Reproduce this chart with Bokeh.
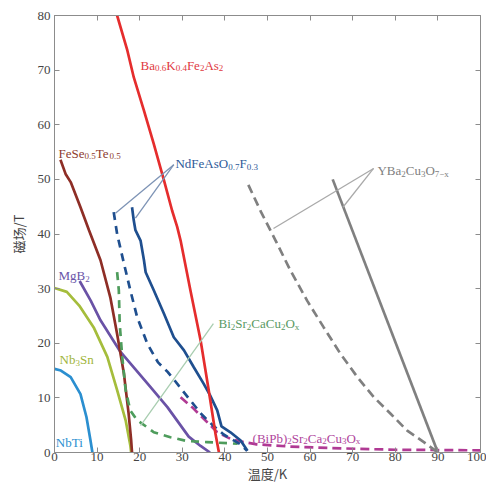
from bokeh.plotting import figure
from bokeh.models import Label, LinearAxis, FixedTicker
from bokeh.embed import file_html
from bokeh.resources import INLINE

# ---------------- data ----------------
x_ticks = [0, 10, 20, 30, 40, 50, 60, 70, 80, 90, 100]
y_ticks = [0, 10, 20, 30, 40, 50, 60, 70, 80]

nbti_T = [0, 1.5, 3.8, 6.1, 7.5, 8.45, 8.9]
nbti_B = [15.3, 15.0, 13.8, 10.7, 6.5, 2.2, 0]

nb3sn_T = [0, 2.9, 5.8, 9.2, 12.4, 14.7, 16.7, 17.8, 18.0]
nb3sn_B = [30.1, 29.4, 26.9, 22.9, 17.5, 11.4, 5.9, 1.3, 0]

mgb2_T = [5.9, 8.5, 10.8, 15.5, 18.6, 22.5, 26.5, 31.5, 34.3, 36.5]
mgb2_B = [31.4, 27.8, 24.2, 18.4, 15.6, 12.0, 8.3, 2.9, 1.2, 0]

fese_T = [1.4, 2.6, 3.8, 6.1, 8.1, 10.8, 13.1, 14.7, 16.3, 17.4, 18.0, 18.2]
fese_B = [53.6, 51.0, 49.5, 44.9, 40.7, 35.2, 28.4, 21.7, 14.4, 7.1, 2.2, 0]

ba_T = [14.7, 17.1, 18.6, 21.0, 23.3, 25.7, 27.6, 28.8, 29.6, 31.9, 34.3, 36.2, 37.8, 38.6]
ba_B = [80, 73.6, 68.7, 62.6, 56.5, 49.8, 44.3, 41.3, 38.8, 29.7, 20.5, 11.4, 3.4, 0]

nd_T = [18.2, 18.6, 19.0, 20.2, 21.0, 21.4, 23.3, 25.7, 28.0, 30.4, 32.7, 35.0, 36.5,
        38.2, 39.2, 41.3, 43.7, 45.3]
nd_B = [44.9, 42.5, 40.7, 38.8, 35.2, 33.0, 29.7, 25.4, 21.1, 18.7, 15.6, 12.6, 10.5,
        7.7, 4.8, 3.7, 2.2, 0.3]

nd_dash_T = [13.9, 14.7, 16.3, 17.8, 19.4, 21.8, 24.3, 26.5, 28.4, 30.4, 34.4, 37.0, 39.7, 43.7, 45.2]
nd_dash_B = [44.0, 40.0, 34.6, 29.7, 24.8, 19.9, 16.5, 14.8, 13.0, 11.0, 7.1, 5.1, 3.3, 1.5, 0.3]

bi2212_T = [14.7, 15.1, 15.3, 15.9, 16.7, 17.8, 19.4, 21.8, 23.3, 27.2, 31.1, 35.8, 43.0]
bi2212_B = [33.0, 29.7, 23.6, 17.5, 11.4, 7.7, 5.9, 4.6, 3.7, 2.8, 2.1, 1.9, 1.6]

bipb_T = [29.6, 32.3, 35.4, 38.2, 41.3, 44.4, 47.5, 55, 65, 80, 100]
bipb_B = [10.1, 8.3, 5.9, 3.7, 2.5, 1.9, 1.5, 1.1, 0.8, 0.5, 0.4]

ybco_dash_T = [45.5, 48.5, 51.9, 55.4, 59.3, 63.2, 67.1, 71.1, 75.0, 78.9, 82.8, 86.7, 90]
ybco_dash_B = [49.0, 44.0, 38.8, 33.3, 27.8, 22.9, 18.1, 13.8, 10.1, 7.1, 4.0, 1.9, 0]

ybco_T = [65.3, 90]
ybco_B = [50, 0]

# leader lines (annotation pointers)
nd_lead_T = [[28.0, 14.3], [28.0, 19.0]]
nd_lead_B = [[52.7, 43.8], [52.7, 42.9]]
yb_lead_T = [[74.9, 51.4], [74.9, 67.7]]
yb_lead_B = [[52.0, 41.0], [52.0, 44.9]]
bi_lead_T = [[37.3, 20.2]]
bi_lead_B = [[23.6, 4.9]]

# ---------------- figure ----------------
AX = "#8c8c8c"
TXT = "#444444"
SERIF = "Liberation Serif"

p = figure(width=486, height=485, x_range=(0, 100), y_range=(0, 80),
           output_backend="svg", toolbar_location=None,
           min_border_left=54, min_border_top=15, min_border_right=6, min_border_bottom=10)
p.grid.visible = False
p.outline_line_color = AX
p.background_fill_color = "white"

for ax in (p.xaxis[0], p.yaxis[0]):
    ax.major_tick_in = 5
    ax.major_tick_out = 0
    ax.minor_tick_line_color = None
    ax.axis_line_color = AX
    ax.major_tick_line_color = AX
    ax.major_label_text_font = SERIF
    ax.major_label_text_font_size = "13px"
    ax.major_label_text_color = TXT
    ax.axis_label_text_font = "Noto Sans CJK SC"
    ax.axis_label_text_font_size = "13px"
    ax.axis_label_text_font_style = "normal"
    ax.axis_label_text_color = TXT

p.xaxis.ticker = FixedTicker(ticks=x_ticks)
p.yaxis.ticker = FixedTicker(ticks=y_ticks)
p.xaxis.axis_label = "温度/K"
p.yaxis.axis_label = "磁场/T"
p.xaxis.major_label_standoff = 0
p.xaxis.axis_label_standoff = 0
p.yaxis.major_label_standoff = 4
p.yaxis.axis_label_standoff = 7

top = LinearAxis(ticker=FixedTicker(ticks=x_ticks), major_tick_in=5, major_tick_out=0,
                 minor_tick_line_color=None, axis_line_color=AX, major_tick_line_color=AX,
                 major_label_text_font_size="1px", major_label_text_color=None,
                 major_label_standoff=0)
right = LinearAxis(ticker=FixedTicker(ticks=y_ticks), major_tick_in=5, major_tick_out=0,
                   minor_tick_line_color=None, axis_line_color=AX, major_tick_line_color=AX,
                   major_label_text_font_size="1px", major_label_text_color=None,
                   major_label_standoff=0)
p.add_layout(top, "above")
p.add_layout(right, "right")

LW = 2.7
p.line(nbti_T, nbti_B, line_color="#2b8fd0", line_width=LW)
p.line(nb3sn_T, nb3sn_B, line_color="#a5bd3c", line_width=LW)
p.line(mgb2_T, mgb2_B, line_color="#6a52a6", line_width=LW)
p.line(fese_T, fese_B, line_color="#8e2e26", line_width=LW)
p.line(bipb_T, bipb_B, line_color="#b03a94", line_width=LW, line_dash="9 5")
p.line(bi2212_T, bi2212_B, line_color="#4e9c5c", line_width=LW, line_dash="8 6")
p.line(nd_dash_T, nd_dash_B, line_color="#1f4f8f", line_width=LW, line_dash="8 6")
p.line(nd_T, nd_B, line_color="#1f4f8f", line_width=LW)
p.line(ba_T, ba_B, line_color="#e52d2d", line_width=LW)
p.line(ybco_dash_T, ybco_dash_B, line_color="#808080", line_width=LW, line_dash="9 5")
p.line(ybco_T, ybco_B, line_color="#808080", line_width=LW)

p.multi_line(nd_lead_T, nd_lead_B, line_color="#7d93b5", line_width=1.3)
p.multi_line(yb_lead_T, yb_lead_B, line_color="#a9a9a9", line_width=1.3)
p.multi_line(bi_lead_T, bi_lead_B, line_color="#a8cdb0", line_width=1.3)

# ---------------- formula labels with subscripts ----------------
W = {'B': 667, 'a': 444, 'K': 722, 'F': 556, 'e': 444, 'A': 722, 's': 389, 'S': 556,
     'T': 611, 'N': 722, 'd': 500, 'O': 722, 'Y': 722, 'C': 667, 'u': 500, 'M': 889,
     'g': 500, 'b': 500, 'i': 278, 'r': 333, 'P': 556, '(': 333, ')': 333, '.': 250,
     'x': 500, '-': 333, '−': 564, 'n': 500}


def seg_w(s, size):
    return sum(W.get(ch, 500) for ch in s) * size / 1000.0


def formula(x, y, parts, color, size=13, sub=9, drop=3):
    off = 0.0
    for txt, is_sub in parts:
        fs = sub if is_sub else size
        p.add_layout(Label(x=x, y=y, text=txt, x_offset=off, y_offset=(-drop if is_sub else 0),
                           text_font=SERIF, text_font_size=f"{fs}px", text_color=color,
                           text_baseline="alphabetic", text_align="left"))
        off += seg_w(txt, fs)


formula(20.2, 70.9, [("Ba", 0), ("0.6", 1), ("K", 0), ("0.4", 1), ("Fe", 0), ("2", 1), ("As", 0), ("2", 1)], "#e03a3f")
formula(0.95, 54.8, [("FeSe", 0), ("0.5", 1), ("Te", 0), ("0.5", 1)], "#8e3a30")
formula(28.4, 52.9, [("NdFeAsO", 0), ("0.7", 1), ("F", 0), ("0.3", 1)], "#2d5a98")
formula(75.8, 51.6, [("YBa", 0), ("2", 1), ("Cu", 0), ("3", 1), ("O", 0), ("7−x", 1)], "#808080")
formula(0.95, 32.4, [("MgB", 0), ("2", 1)], "#6a55a8")
formula(1.2, 17.0, [("Nb", 0), ("3", 1), ("Sn", 0)], "#9fb53a")
formula(0.3, 1.8, [("NbTi", 0)], "#2b8fd0")
formula(38.5, 23.6, [("Bi", 0), ("2", 1), ("Sr", 0), ("2", 1), ("CaCu", 0), ("2", 1), ("O", 0), ("x", 1)], "#5a9a64")
formula(46.5, 2.6, [("(BiPb)", 0), ("2", 1), ("Sr", 0), ("2", 1), ("Ca", 0), ("2", 1), ("Cu", 0), ("3", 1), ("O", 0), ("x", 1)], "#b0459c")

open("out.html", "w").write(file_html(p, INLINE))
